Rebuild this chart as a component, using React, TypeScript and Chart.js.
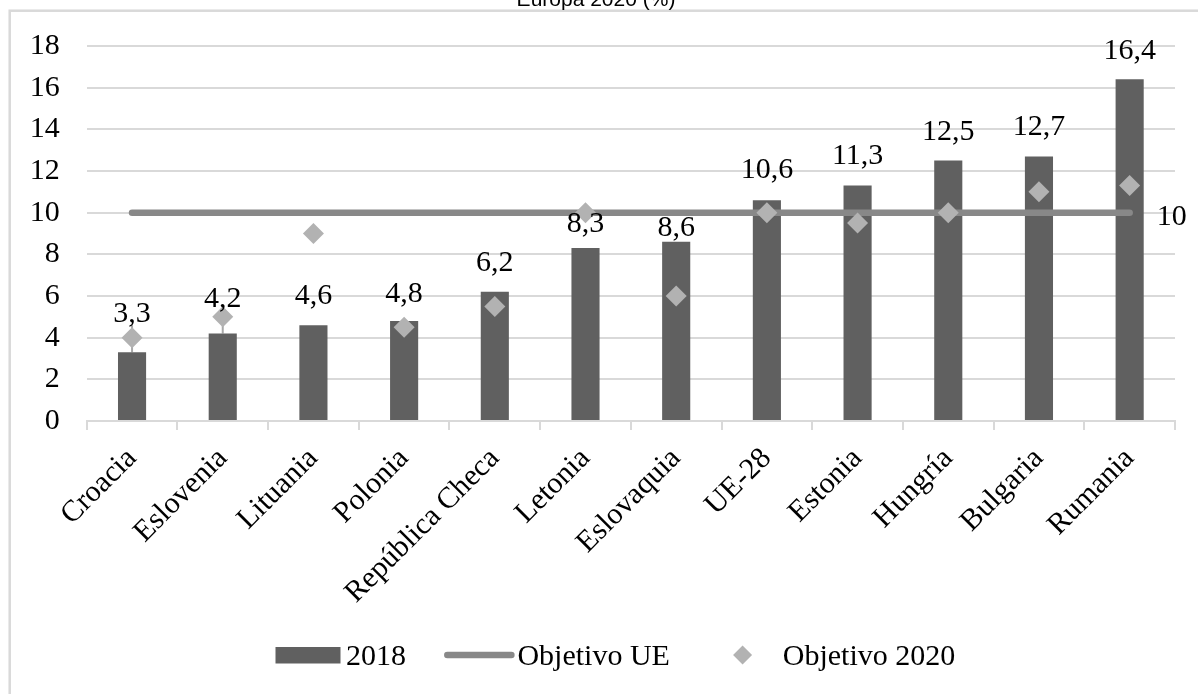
import React, { useEffect, useRef } from "react";
import { Chart, registerables } from "chart.js";

Chart.register(...registerables);

// ---- data ----
const categories = [
  "Croacia",
  "Eslovenia",
  "Lituania",
  "Polonia",
  "República Checa",
  "Letonia",
  "Eslovaquia",
  "UE-28",
  "Estonia",
  "Hungría",
  "Bulgaria",
  "Rumania",
];
const values2018 = [3.3, 4.2, 4.6, 4.8, 6.2, 8.3, 8.6, 10.6, 11.3, 12.5, 12.7, 16.4];
const objetivoUE = [10, 10, 10, 10, 10, 10, 10, 10, 10, 10, 10, 10];
const objetivo2020 = [4, 5, 9, 4.5, 5.5, 10, 6, 10, 9.5, 10, 11, 11.3];
const yMin = 0;
const yMax = 18;
const yStep = 2;
const titleText = "Europa 2020 (%)";
const seriesNames = ["2018", "Objetivo UE", "Objetivo 2020"];

// ---- styling ----
const SERIF = '"Liberation Serif", "Times New Roman", serif';
const SANS = '"Liberation Sans", Arial, sans-serif';
const BAR_COLOR = "#606060";
const LINE_COLOR = "#888888";
const DIAMOND_COLOR = "#b2b2b2";
const GRID_COLOR = "#d9d9d9";
const LEADER_COLOR = "#a8a8a8";
// distance (px) between each value label's baseline and the top of its bar
const labelGap = [30, 27, 21, 19, 21, 16, 6, 22, 22, 21, 21, 20];

const fmt = (v: number) => String(v).replace(".", ",");

const framePlugin = {
  id: "frame",
  beforeDraw(chart: any) {
    const { ctx, width, height } = chart;
    ctx.save();
    ctx.fillStyle = "#ffffff";
    ctx.fillRect(0, 0, width, height);
    ctx.strokeStyle = GRID_COLOR;
    ctx.lineWidth = 2.5;
    ctx.strokeRect(9.7, 10.7, width + 200, height + 200);
    ctx.fillStyle = "#000000";
    ctx.font = `21px ${SANS}`;
    ctx.textAlign = "center";
    ctx.textBaseline = "alphabetic";
    ctx.fillText(titleText, 596, 6);
    ctx.restore();
  },
};

const valueLabelPlugin = {
  id: "valueLabels",
  beforeDatasetsDraw(chart: any) {
    // leader lines for labels lifted away from their bars
    const { ctx } = chart;
    const barMeta = chart.getDatasetMeta(0);
    ctx.save();
    ctx.strokeStyle = LEADER_COLOR;
    ctx.lineWidth = 2;
    barMeta.data.forEach((bar: any, i: number) => {
      if (labelGap[i] > 25) {
        const base = bar.y - labelGap[i];
        ctx.beginPath();
        ctx.moveTo(bar.x, base + 3);
        ctx.lineTo(bar.x, bar.y);
        ctx.stroke();
      }
    });
    ctx.restore();
  },
  afterDatasetsDraw(chart: any) {
    const { ctx } = chart;
    const barMeta = chart.getDatasetMeta(0);
    ctx.save();
    ctx.fillStyle = "#000000";
    ctx.font = `30px ${SERIF}`;
    ctx.textAlign = "center";
    ctx.textBaseline = "alphabetic";
    barMeta.data.forEach((bar: any, i: number) => {
      ctx.fillText(fmt(values2018[i]), bar.x, bar.y - labelGap[i]);
    });
    // value of the target line at its right end
    const lineMeta = chart.getDatasetMeta(1);
    const last = lineMeta.data[lineMeta.data.length - 1];
    ctx.textAlign = "left";
    ctx.fillText(fmt(objetivoUE[objetivoUE.length - 1]), last.x + 27, last.y + 12.5);
    ctx.restore();
  },
};

const legendPlugin = {
  id: "customLegend",
  afterDraw(chart: any) {
    const { ctx } = chart;
    const cy = 655;
    const baseline = cy + 9.5;
    ctx.save();
    ctx.font = `30px ${SERIF}`;
    ctx.fillStyle = "#000000";
    ctx.textAlign = "left";
    ctx.textBaseline = "alphabetic";

    let x = 275.5;
    ctx.fillStyle = BAR_COLOR;
    ctx.fillRect(x, cy - 8, 65, 16.5);
    x += 70.5;
    ctx.fillStyle = "#000000";
    ctx.fillText(seriesNames[0], x, baseline);
    x += ctx.measureText(seriesNames[0]).width + 38;

    ctx.strokeStyle = LINE_COLOR;
    ctx.lineWidth = 6.5;
    ctx.lineCap = "round";
    ctx.beginPath();
    ctx.moveTo(x + 3.3, cy);
    ctx.lineTo(x + 67.4, cy);
    ctx.stroke();
    x += 73.4;
    ctx.fillText(seriesNames[1], x, baseline);
    x += ctx.measureText(seriesNames[1]).width + 72.7;

    ctx.fillStyle = DIAMOND_COLOR;
    const r = 9.5;
    ctx.beginPath();
    ctx.moveTo(x - r, cy);
    ctx.lineTo(x, cy - r);
    ctx.lineTo(x + r, cy);
    ctx.lineTo(x, cy + r);
    ctx.closePath();
    ctx.fill();
    x += 40.2;
    ctx.fillStyle = "#000000";
    ctx.fillText(seriesNames[2], x, baseline);
    ctx.restore();
  },
};

export default function App() {
  const canvasRef = useRef<HTMLCanvasElement | null>(null);

  useEffect(() => {
    if (!canvasRef.current) return;
    const chart = new Chart(canvasRef.current, {
      type: "bar",
      data: {
        labels: categories,
        datasets: [
          {
            type: "bar",
            label: seriesNames[0],
            data: values2018,
            backgroundColor: BAR_COLOR,
            borderWidth: 0,
            barPercentage: 0.31,
            categoryPercentage: 1,
            order: 3,
          },
          {
            type: "line",
            label: seriesNames[1],
            data: objetivoUE,
            borderColor: LINE_COLOR,
            borderWidth: 6.5,
            borderCapStyle: "round",
            pointRadius: 0,
            pointHoverRadius: 0,
            fill: false,
            order: 2,
          },
          {
            type: "line",
            label: seriesNames[2],
            data: objetivo2020,
            showLine: false,
            pointStyle: "rectRot",
            pointRadius: 10.5,
            pointBackgroundColor: DIAMOND_COLOR,
            pointBorderColor: DIAMOND_COLOR,
            pointBorderWidth: 0,
            order: 1,
          },
        ],
      },
      options: {
        responsive: false,
        animation: false,
        devicePixelRatio: 1,
        layout: { padding: { top: 46, right: 23, left: 0, bottom: 0 } },
        plugins: {
          legend: { display: false },
          title: { display: false },
          tooltip: { enabled: false },
        },
        scales: {
          x: {
            offset: true,
            grid: {
              offset: true,
              drawOnChartArea: false,
              drawTicks: true,
              tickLength: 9,
              color: GRID_COLOR,
              lineWidth: 2,
            },
            border: { display: true, color: GRID_COLOR, width: 2 },
            ticks: {
              autoSkip: false,
              minRotation: 45,
              maxRotation: 45,
              padding: 11,
              color: "#000000",
              font: { family: SERIF, size: 30 },
            },
            afterFit(scale: any) {
              scale.height = 273;
            },
          },
          y: {
            min: yMin,
            max: yMax,
            ticks: {
              stepSize: yStep,
              padding: 27,
              color: "#000000",
              font: { family: SERIF, size: 30 },
              callback: (v: any) => fmt(Number(v)),
            },
            grid: { color: GRID_COLOR, lineWidth: 2, drawTicks: false },
            border: { display: false },
            afterFit(scale: any) {
              scale.width = 86.7;
            },
          },
        },
      },
      plugins: [framePlugin, valueLabelPlugin, legendPlugin],
    });
    return () => chart.destroy();
  }, []);

  return (
    <div style={{ position: "absolute", left: 0, top: 0, width: 1198, height: 694 }}>
      <canvas ref={canvasRef} width={1198} height={694} style={{ display: "block" }} />
    </div>
  );
}
